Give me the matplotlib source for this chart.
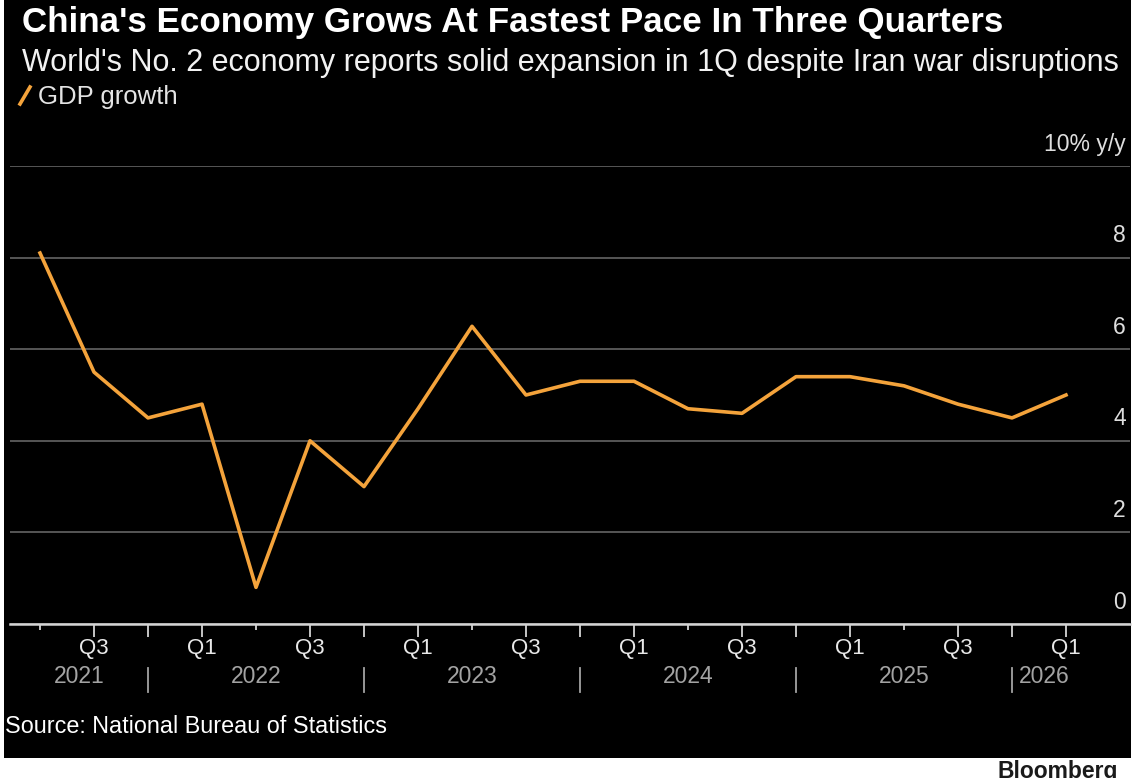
import matplotlib
matplotlib.use("Agg")
import matplotlib.pyplot as plt
from matplotlib.patches import Rectangle
from matplotlib.lines import Line2D

plt.rcParams['font.family'] = ['Liberation Sans', 'DejaVu Sans']

# quarterly data, 2021 Q2 .. 2026 Q1
quarters = ["Q2", "Q3", "Q4",
            "Q1", "Q2", "Q3", "Q4",
            "Q1", "Q2", "Q3", "Q4",
            "Q1", "Q2", "Q3", "Q4",
            "Q1", "Q2", "Q3", "Q4",
            "Q1"]
years = [2021] * 3 + [2022] * 4 + [2023] * 4 + [2024] * 4 + [2025] * 4 + [2026]
gdp_growth = [8.1, 5.5, 4.5,
              4.8, 0.8, 4.0, 3.0,
              4.7, 6.5, 5.0, 5.3,
              5.3, 4.7, 4.6, 5.4,
              5.4, 5.2, 4.8, 4.5,
              5.0]
y_ticks = [0, 2, 4, 6, 8, 10]
y_tick_labels = ["0", "2", "4", "6", "8", "10% y/y"]

title = "China's Economy Grows At Fastest Pace In Three Quarters"
subtitle = "World's No. 2 economy reports solid expansion in 1Q despite Iran war disruptions"
source = "Source: National Bureau of Statistics"

W, H = 1140, 778
orange = '#f4a33b'
grid_c = '#5c5c5c'
axis_c = '#d4d4d4'
year_c = '#a3a3a3'

fig = plt.figure(figsize=(W / 100, H / 100), dpi=100)
fig.patch.set_facecolor('white')

# black card (white strip at the bottom), kept behind the axes
card = Rectangle((4 / W, 20 / H), 1127 / W, 758 / H, transform=fig.transFigure,
                 facecolor='black', edgecolor='none', zorder=-10)
fig.patches.append(card)

# plot area: x from 10px to 1130px, y from 166px (10%) to 624px (0)
ax = fig.add_axes([10 / W, (H - 624) / H, 1120 / W, 458 / H])
ax.set_zorder(1)
ax.patch.set_alpha(0)
x = list(range(len(gdp_growth)))
ax.set_xlim((10 - 40) / 54, (1130 - 40) / 54)
ax.set_ylim(0, 10)

ax.plot(x, gdp_growth, color=orange, lw=2.6, zorder=3)

# grid + right side labels
ax.set_yticks(y_ticks)
ax.yaxis.grid(True, color=grid_c, lw=1.3)
ax.tick_params(axis='y', length=0, labelleft=False)
for v, lab in zip(y_ticks, y_tick_labels):
    ax.annotate(lab, xy=(1, v), xycoords=('axes fraction', 'data'),
                xytext=(-3, 7.5), textcoords='offset points',
                ha='right', va='bottom', color='#dedede', fontsize=16.5)

for s in ['top', 'left', 'right']:
    ax.spines[s].set_visible(False)
ax.spines['bottom'].set_color(axis_c)
ax.spines['bottom'].set_linewidth(1.8)

# quarter ticks: Q2 ticks are shorter
major = [i for i, q in enumerate(quarters) if q != "Q2"]
minor = [i for i, q in enumerate(quarters) if q == "Q2"]
ax.set_xticks(major)
ax.set_xticklabels([quarters[i] if quarters[i] in ("Q1", "Q3") else "" for i in major])
ax.set_xticks(minor, minor=True)
ax.tick_params(axis='x', which='major', length=9, width=1.3, color=axis_c,
               labelcolor='#e8e8e8', labelsize=16, pad=1)
ax.tick_params(axis='x', which='minor', length=4.5, width=1.3, color=axis_c)

# year labels and separators
seps = [i for i, q in enumerate(quarters) if q == "Q4"]
sep_tr = ax.get_xaxis_transform()
for s in seps:
    ax.plot([s, s], [-44 / 458, -68 / 458], transform=sep_tr, color=year_c,
            lw=1.3, clip_on=False)
left_bound = ax.get_xlim()[0]
for yr in sorted(set(years)):
    idx = [i for i, y in enumerate(years) if y == yr]
    q4 = [i for i in idx if quarters[i] == "Q4"]
    if q4:
        prev = [s for s in seps if s < idx[0]]
        start = prev[-1] if prev else left_bound
        ax.annotate(str(yr), xy=((start + q4[0]) / 2, 0),
                    xycoords=('data', 'axes fraction'), xytext=(0, -37.5),
                    textcoords='offset points', ha='center', va='center',
                    color=year_c, fontsize=16.5)
    else:
        ax.annotate(str(yr), xy=(seps[-1], 0), xycoords=('data', 'axes fraction'),
                    xytext=(5, -37.5), textcoords='offset points', ha='left',
                    va='center', color=year_c, fontsize=16.5)

# header
fig.text(22 / W, 1 - 32 / H, title, fontsize=25.2, weight='bold', color='white',
         va='baseline')
fig.text(22 / W, 1 - 71 / H, subtitle, fontsize=22, color='#f2f2f2',
         va='baseline')
fig.lines.append(Line2D([20 / W, 30 / W], [1 - 104 / H, 1 - 87 / H],
                        transform=fig.transFigure, color=orange, lw=2.6))
fig.text(38 / W, 1 - 104 / H, "GDP growth", fontsize=18.5, color='#e4e4e4',
         va='baseline')

# footer
fig.text(5 / W, 1 - 733 / H, source, fontsize=16.8, color='white', va='baseline')
fig.text(1118 / W, 1 - 760 / H, "Bloomberg", fontsize=16.5, weight='bold',
         color='#1a1a1a', ha='right', va='top')

fig.savefig('out.png', dpi=100, facecolor=fig.get_facecolor())
